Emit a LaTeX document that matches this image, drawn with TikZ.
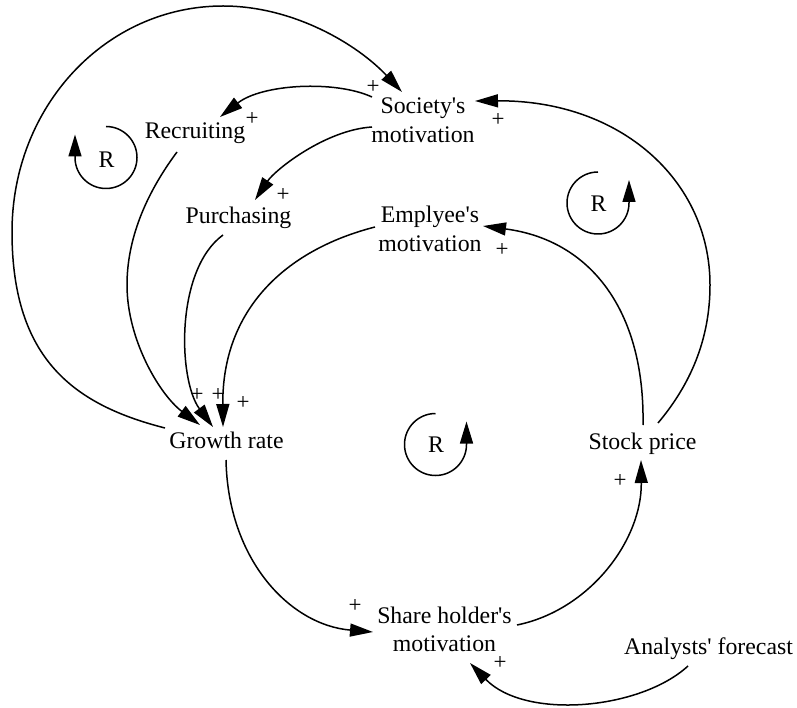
\documentclass[tikz,border=0pt]{standalone}
\usepackage{fontspec}
\setmainfont{Liberation Serif}[Ligatures=TeXOff]
\usetikzlibrary{arrows.meta}
\begin{document}
\begin{tikzpicture}[x=1pt,y=-1pt,
  every node/.style={font=\fontsize{23.8}{28.5}\selectfont, inner sep=0pt},
  var/.style={anchor=base, align=center},
  pol/.style={anchor=center, font=\fontsize{23}{28}\selectfont},
  link/.style={line width=1.5pt, -{Triangle[length=23pt,width=13pt]}},
  loopmark/.style={line width=1.5pt, -{Triangle[length=22pt,width=13pt]}},
]
\fill[white] (0,0) rectangle (797,708);
\useasboundingbox (0,0) rectangle (797,708);

% variables (two-line nodes sit on the baseline of their last line)
\node[var] (sm)  at (423,142.5)   {Society's\\motivation};
\node[var] (rec) at (195,138.5)   {Recruiting};
\node[var] (pur) at (238.5,223.5) {Purchasing};
\node[var] (emp) at (430,251.5)   {Emplyee's\\motivation};
\node[var] (gr)  at (226.5,448)   {Growth rate};
\node[var] (sp)  at (642.5,449.5) {Stock price};
\node[var] (sh)  at (444.5,651.5) {Share holder's\\motivation};
\node[var] (af)  at (708.5,654)   {Analysts' forecast};

% polarity signs
\node[pol] (p1)  at (373,87)    {+};
\node[pol] (p2)  at (252,119)   {+};
\node[pol] (p3)  at (283,195)   {+};
\node[pol] (p4)  at (498,120)   {+};
\node[pol] (p5)  at (502,250)   {+};
\node[pol] (p6)  at (197,395)   {+};
\node[pol] (p7)  at (218,395)   {+};
\node[pol] (p8)  at (243,403)   {+};
\node[pol] (p9)  at (355,606)   {+};
\node[pol] (p10) at (500,663)   {+};
\node[pol] (p11) at (620,481)   {+};

% loop markers
\draw[loopmark] (106,126.5) arc[start angle=90,end angle=-180,radius=31pt] -- ++(0,-23);
\node (r1) at (106.5,160) {R};
\draw[loopmark] (598,172) arc[start angle=90,end angle=360,radius=31pt] -- ++(0,-23);
\node (r2) at (598.5,203.5) {R};
\draw[loopmark] (435.5,413.5) arc[start angle=90,end angle=360,radius=31pt] -- ++(0,-23);
\node (r3) at (436,445) {R};

% causal links
\draw[link] ([shift={(-61.5,-20)}]gr.base) .. controls (75,405) and (12,360) .. (12,232)
  .. controls (12,106) and (106,6) .. (223,6)
  .. controls (293,6) and (357,44) .. ([shift={(-21,-50.5)}]sm.base);
\draw[link] ([shift={(-51,-45.5)}]sm.base) .. controls (335,80) and (262,84) .. ([shift={(25,-21.5)}]rec.base);
\draw[link] ([shift={(-51,-15.5)}]sm.base) .. controls (325,130) and (275,170) .. ([shift={(16.5,-23.5)}]pur.base);
\draw[link] ([shift={(-18,13.5)}]rec.base) .. controls (145,195) and (127,240) .. (127,285)
  .. controls (127,340) and (160,395) .. ([shift={(-26.5,-23)}]gr.base);
\draw[link] ([shift={(-15.5,11.5)}]pur.base) .. controls (175,270) and (178,380) .. ([shift={(-13.5,-21)}]gr.base);
\draw[link] ([shift={(-55,-24.5)}]emp.base) .. controls (285,250) and (222,310) .. ([shift={(-3.5,-21)}]gr.base);
\draw[link] ([shift={(0.5,-24.5)}]sp.base) .. controls (645,310) and (590,240) .. ([shift={(53,-25.5)}]emp.base);
\draw[link] ([shift={(15.5,-26.5)}]sp.base) .. controls (690,385) and (710,340) .. (710,285)
  .. controls (710,180) and (620,100) .. ([shift={(52,-41.5)}]sm.base);
\draw[link] ([shift={(-0.5,12)}]gr.base) .. controls (228,560) and (290,625) .. ([shift={(-71.5,-19.5)}]sh.base);
\draw[link] ([shift={(72.5,-26.5)}]sh.base) .. controls (590,610) and (642,540) .. ([shift={(-1.5,10.5)}]sp.base);
\draw[link] ([shift={(-20.5,12)}]af.base) .. controls (640,710) and (525,720) .. ([shift={(25.5,11.5)}]sh.base);
\end{tikzpicture}
\end{document}
